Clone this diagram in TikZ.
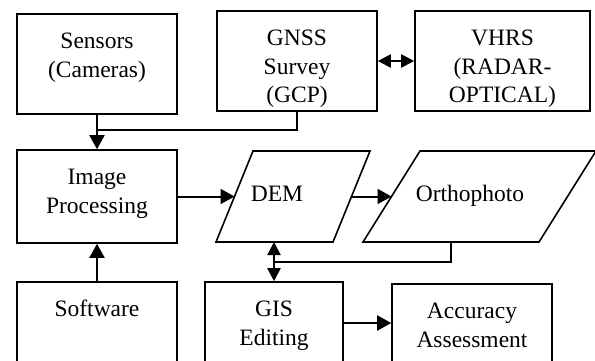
\documentclass[tikz,border=0pt]{standalone}
\usepackage{fontspec}
\setmainfont{Liberation Serif}
\usetikzlibrary{arrows.meta,calc}

% fixed-size box content with the lines set from the top
\newcommand\toplines[3]{\parbox[c][#2][t]{#1}{\centering\rule{0pt}{34.5pt}#3}}

\tikzset{
  procbox/.style={draw, line width=1.6pt, inner sep=0pt, rectangle},
  dataedge/.style={line width=1.6pt, line join=miter},
  frame/.style={inner sep=0pt, outer sep=0pt},
  lbl/.style={inner sep=0pt},
  link/.style={line width=2pt},
  flow/.style={line width=2pt, -{Triangle[length=14pt,width=15pt]}},
  both/.style={line width=2pt, {Triangle[length=13pt,width=13pt]}-{Triangle[length=13pt,width=13pt]}},
}

\begin{document}
\begin{tikzpicture}[x=1pt,y=-1pt,font=\fontsize{23.5}{28.5}\selectfont]
\useasboundingbox (0,0) rectangle (595,360);
\clip (0,0) rectangle (595,360);

% top row
\node[procbox] (sensors) at (97,64) {\toplines{160pt}{100pt}{Sensors\\(Cameras)}};
\node[procbox] (gnss) at (297,61) {\toplines{160pt}{100pt}{GNSS\\Survey\\(GCP)}};
\node[procbox] (vhrs) at (502.5,61) {\toplines{175pt}{100pt}{VHRS\\(RADAR-\\OPTICAL)}};

% middle row
\node[procbox] (improc) at (97,196.5) {\toplines{160pt}{93pt}{Image\\Processing}};

% DEM parallelogram (slant 37)
\node[frame, minimum width=154pt, minimum height=91pt] (dem) at (293,196.5) {};
\draw[dataedge] (dem.south west) -- ($(dem.north west)+(37,0)$) -- (dem.north east)
  -- ($(dem.south east)+(-37,0)$) -- cycle;
\coordinate (demin) at ($(dem.west)+(18.5,0)$);
\coordinate (demout) at ($(dem.east)+(-18.5,0)$);
\coordinate (dembase) at ($(dem.south west)+(58,0)$);
\node[lbl, anchor=base] (demtext) at (277,201.5) {DEM};

% Orthophoto parallelogram (slant 57)
\node[frame, minimum width=233pt, minimum height=91pt] (ortho) at (479.5,196.5) {};
\draw[dataedge] (ortho.south west) -- ($(ortho.north west)+(57,0)$) -- (ortho.north east)
  -- ($(ortho.south east)+(-57,0)$) -- cycle;
\coordinate (orthoin) at ($(ortho.west)+(28.5,0)$);
\coordinate (orthobase) at ($(ortho.south west)+(88,0)$);
\node[lbl, anchor=base] (orthotext) at (470,201.5) {Orthophoto};

% bottom row
\node[procbox] (software) at (97,323) {\toplines{160pt}{82pt}{Software}};
\node[procbox] (gis) at (274,323) {\toplines{138pt}{82pt}{GIS\\Editing}};
\node[procbox] (accuracy) at (472,323) {\toplines{160pt}{78pt}{Accuracy\\Assessment}};

% connectors
\coordinate (join) at (97,130);
\draw[link] (gnss.south) |- (join);
\draw[flow] (sensors.south) -- (improc.north);
\draw[flow] (software.north) -- (improc.south);
\draw[both] (gnss.east) -- (vhrs.west);
\draw[flow] (improc.east) -- (demin);
\draw[flow] (demout) -- (orthoin);
\draw[both] (dem.south -| gis.north) -- (gis.north);
\coordinate (tee) at ($(dem.south -| gis.north)!0.5!(gis.north)$);
\draw[link] (orthobase) |- (tee);
\draw[flow] (gis.east) -- (accuracy.west);
\end{tikzpicture}
\end{document}
